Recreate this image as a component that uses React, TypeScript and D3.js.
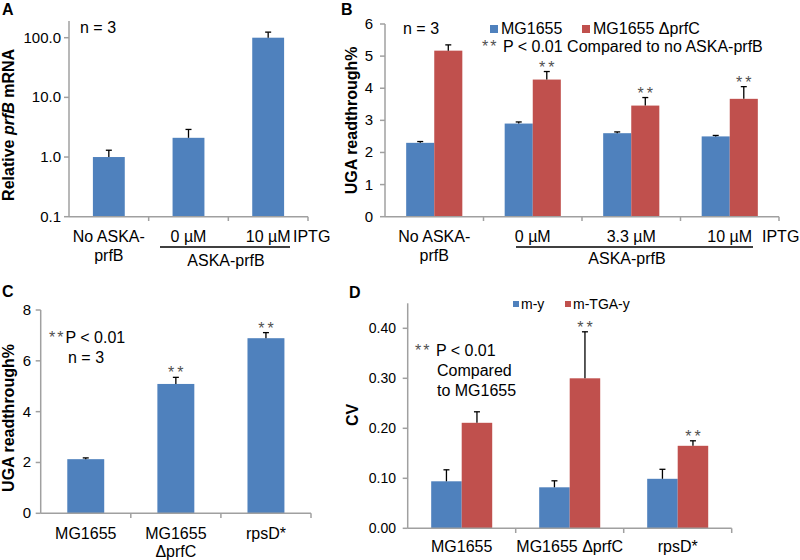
import React from "react";
import * as d3 from "d3";

// Panel A
const aCategories = ["No ASKA-prfB", "0 µM", "10 µM"];
const aValues = [1.0, 2.1, 100];
const aErrors = [0.3, 0.8, 24];
const aTicks = [0.1, 1, 10, 100];

// Panel B
const bCategories = ["No ASKA-prfB", "0 µM", "3.3 µM", "10 µM"];
const bSeries = ["MG1655", "MG1655 ΔprfC"];
const bWT = [2.3, 2.9, 2.6, 2.5];
const bWTErr = [0.04, 0.05, 0.04, 0.03];
const bPrfC = [5.17, 4.27, 3.46, 3.67];
const bPrfCErr = [0.18, 0.25, 0.25, 0.38];
const bSig = [false, true, true, true];
const bTicks = [0, 1, 2, 3, 4, 5, 6];

// Panel C
const cCategories = ["MG1655", "MG1655\nΔprfC", "rpsD*"];
const cValues = [2.13, 5.09, 6.89];
const cErrors = [0.05, 0.26, 0.22];
const cSig = [false, true, true];
const cTicks = [0, 2, 4, 6, 8];

// Panel D
const dCategories = ["MG1655", "MG1655 ΔprfC", "rpsD*"];
const dSeries = ["m-y", "m-TGA-y"];
const dMY = [0.094, 0.082, 0.099];
const dMYErr = [0.023, 0.013, 0.019];
const dMTGA = [0.211, 0.3, 0.165];
const dMTGAErr = [0.022, 0.093, 0.01];
const dSig = [false, true, true];
const dTicks = [0, 0.1, 0.2, 0.3, 0.4];

const BLUE = "#4f81bd";
const RED = "#c0504d";
const AXIS = "#a0a0a0";
const STAR = "#505050";
const FONT = "Liberation Sans, Arial, sans-serif";

function ErrBar({ x, y0, y1 }: { x: number; y0: number; y1: number }) {
  return (
    <g stroke="#000" strokeWidth={1.3}>
      <line x1={x} x2={x} y1={y0} y2={y1} />
      <line x1={x - 3} x2={x + 3} y1={y1} y2={y1} />
    </g>
  );
}

function Stars({ x, y }: { x: number; y: number }) {
  return (
    <text x={x + 1.5} y={y + 1} textAnchor="middle" fontSize={16} letterSpacing={3} fill={STAR}>
      **
    </text>
  );
}

function PanelA() {
  const x = d3.scaleBand<string>().domain(aCategories).range([69, 308]).padding(0);
  const y = d3.scaleLog().domain([0.1, 100]).range([216.7, 37.7]);
  const bw = x.bandwidth() * 0.4;
  const fmt = d3.format(".1f");
  const yTop = y(190);
  return (
    <g>
      <text x={2} y={15} fontSize={16} fontWeight="bold">A</text>
      <text transform={`translate(14,${(216.7 + yTop) / 2 + 6}) rotate(-90)`} textAnchor="middle" fontSize={16} fontWeight="bold">
        Relative <tspan fontStyle="italic">prfB</tspan> mRNA
      </text>
      <line x1={69} x2={69} y1={yTop} y2={216.7} stroke={AXIS} strokeWidth={1.5} />
      {aTicks.map((t) => (
        <g key={t}>
          <line x1={64} x2={69} y1={y(t)} y2={y(t)} stroke={AXIS} strokeWidth={1.5} />
          <text x={61} y={y(t) + 5} textAnchor="end" fontSize={15}>{fmt(t)}</text>
        </g>
      ))}
      {aCategories.map((c, i) => {
        const cx = x(c)! + x.bandwidth() / 2;
        return (
          <g key={c}>
            <rect x={cx - bw / 2} y={y(aValues[i])} width={bw} height={216.7 - y(aValues[i])} fill={BLUE} />
            <ErrBar x={cx} y0={y(aValues[i])} y1={y(aValues[i] + aErrors[i])} />
          </g>
        );
      })}
      <line x1={69} x2={308} y1={216.7} y2={216.7} stroke={AXIS} strokeWidth={1.5} />
      {aCategories.map((c) => (
        <line key={c} x1={x(c)! + x.bandwidth()} x2={x(c)! + x.bandwidth()} y1={216.7} y2={221} stroke={AXIS} strokeWidth={1.5} />
      ))}
      <text x={x(aCategories[0])! + x.bandwidth() / 2} y={242} textAnchor="middle" fontSize={16}>No ASKA-</text>
      <text x={x(aCategories[0])! + x.bandwidth() / 2} y={261} textAnchor="middle" fontSize={16}>prfB</text>
      {aCategories.slice(1).map((c) => (
        <text key={c} x={x(c)! + x.bandwidth() / 2} y={242} textAnchor="middle" fontSize={16}>{c}</text>
      ))}
      <text x={293} y={242} fontSize={16}>IPTG</text>
      <line x1={160} x2={290} y1={247} y2={247} stroke="#000" strokeWidth={1.5} />
      <text x={226} y={266} textAnchor="middle" fontSize={16}>ASKA-prfB</text>
      <text x={80} y={33} fontSize={16}>n = 3</text>
    </g>
  );
}

function PanelB() {
  const x = d3.scaleBand<string>().domain(bCategories).range([385, 779]).padding(0);
  const y = d3.scaleLinear().domain([0, 6]).range([216.7, 24]);
  const sub = d3.scaleBand<string>().domain(bSeries).range([0, x.bandwidth() * 0.57]);
  const off = x.bandwidth() * (1 - 0.57) / 2;
  const series = [
    { vals: bWT, errs: bWTErr, color: BLUE },
    { vals: bPrfC, errs: bPrfCErr, color: RED },
  ];
  return (
    <g>
      <text x={341} y={15} fontSize={16} fontWeight="bold">B</text>
      <text transform={`translate(357,${(216.7 + 24) / 2}) rotate(-90)`} textAnchor="middle" fontSize={16} fontWeight="bold">UGA readthrough%</text>
      <line x1={385} x2={385} y1={24} y2={216.7} stroke={AXIS} strokeWidth={1.5} />
      {bTicks.map((t) => (
        <g key={t}>
          <line x1={380} x2={385} y1={y(t)} y2={y(t)} stroke={AXIS} strokeWidth={1.5} />
          <text x={373} y={y(t) + 5} textAnchor="end" fontSize={15}>{t}</text>
        </g>
      ))}
      {bCategories.map((c, i) => (
        <g key={c}>
          {series.map((s, j) => {
            const bx = x(c)! + off + sub(bSeries[j])!;
            const cx = bx + sub.bandwidth() / 2;
            return (
              <g key={j}>
                <rect x={bx} y={y(s.vals[i])} width={sub.bandwidth()} height={216.7 - y(s.vals[i])} fill={s.color} />
                <ErrBar x={cx} y0={y(s.vals[i])} y1={y(s.vals[i] + s.errs[i])} />
                {j === 1 && bSig[i] && <Stars x={cx} y={y(s.vals[i] + s.errs[i])} />}
              </g>
            );
          })}
        </g>
      ))}
      <line x1={385} x2={779} y1={216.7} y2={216.7} stroke={AXIS} strokeWidth={1.5} />
      {bCategories.map((c) => (
        <line key={c} x1={x(c)! + x.bandwidth()} x2={x(c)! + x.bandwidth()} y1={216.7} y2={221} stroke={AXIS} strokeWidth={1.5} />
      ))}
      <text x={x(bCategories[0])! + x.bandwidth() / 2} y={242} textAnchor="middle" fontSize={16}>No ASKA-</text>
      <text x={x(bCategories[0])! + x.bandwidth() / 2} y={261} textAnchor="middle" fontSize={16}>prfB</text>
      {bCategories.slice(1).map((c) => (
        <text key={c} x={x(c)! + x.bandwidth() / 2} y={242} textAnchor="middle" fontSize={16}>{c}</text>
      ))}
      <text x={762} y={242} fontSize={16}>IPTG</text>
      <line x1={516} x2={753} y1={247} y2={247} stroke="#000" strokeWidth={1.5} />
      <text x={627} y={264} textAnchor="middle" fontSize={16}>ASKA-prfB</text>
      <text x={403} y={34} fontSize={16}>n = 3</text>
      <rect x={490} y={25} width={8} height={8} fill={BLUE} />
      <text x={501} y={34} fontSize={16}>{bSeries[0]}</text>
      <rect x={582} y={25} width={8} height={8} fill={RED} />
      <text x={593} y={34} fontSize={16}>{bSeries[1]}</text>
      <text x={482} y={52} fontSize={16}>
        <tspan fill={STAR} letterSpacing={2}>**</tspan> P &lt; 0.01 Compared to no ASKA-prfB
      </text>
    </g>
  );
}

function PanelC() {
  const x = d3.scaleBand<string>().domain(cCategories).range([40.7, 311]).padding(0);
  const y = d3.scaleLinear().domain([0, 8]).range([513.3, 310]);
  const bw = x.bandwidth() * 0.41;
  return (
    <g>
      <text x={2} y={297} fontSize={16} fontWeight="bold">C</text>
      <text transform={`translate(14,418) rotate(-90)`} textAnchor="middle" fontSize={16} fontWeight="bold">UGA readthrough%</text>
      <line x1={40.7} x2={40.7} y1={310} y2={513.3} stroke={AXIS} strokeWidth={1.5} />
      {cTicks.map((t) => (
        <g key={t}>
          <line x1={35.7} x2={40.7} y1={y(t)} y2={y(t)} stroke={AXIS} strokeWidth={1.5} />
          <text x={31} y={y(t) + 5} textAnchor="end" fontSize={15}>{t}</text>
        </g>
      ))}
      {cCategories.map((c, i) => {
        const cx = x(c)! + x.bandwidth() / 2;
        return (
          <g key={c}>
            <rect x={cx - bw / 2} y={y(cValues[i])} width={bw} height={513.3 - y(cValues[i])} fill={BLUE} />
            <ErrBar x={cx} y0={y(cValues[i])} y1={y(cValues[i] + cErrors[i])} />
            {cSig[i] && <Stars x={cx} y={y(cValues[i] + cErrors[i])} />}
          </g>
        );
      })}
      <line x1={40.7} x2={311} y1={513.3} y2={513.3} stroke={AXIS} strokeWidth={1.5} />
      {cCategories.map((c) => (
        <line key={c} x1={x(c)! + x.bandwidth()} x2={x(c)! + x.bandwidth()} y1={513.3} y2={518} stroke={AXIS} strokeWidth={1.5} />
      ))}
      {cCategories.map((c) => (
        <text key={c} textAnchor="middle" fontSize={16}>
          {c.split("\n").map((line, k) => (
            <tspan key={k} x={x(c)! + x.bandwidth() / 2} y={539 + k * 18}>{line}</tspan>
          ))}
        </text>
      ))}
      <text x={49} y={343} fontSize={16}>
        <tspan fill={STAR} letterSpacing={2}>**</tspan>P &lt; 0.01
      </text>
      <text x={68} y={363} fontSize={16}>n = 3</text>
    </g>
  );
}

function PanelD() {
  const x = d3.scaleBand<string>().domain(dCategories).range([407.7, 731.7]).padding(0);
  const y = d3.scaleLinear().domain([0, 0.45]).range([528.3, 303.3]);
  const sub = d3.scaleBand<string>().domain(dSeries).range([0, x.bandwidth() * 0.565]);
  const off = x.bandwidth() * (1 - 0.565) / 2;
  const series = [
    { vals: dMY, errs: dMYErr, color: BLUE },
    { vals: dMTGA, errs: dMTGAErr, color: RED },
  ];
  const fmt = d3.format(".2f");
  return (
    <g>
      <text x={349} y={298} fontSize={16} fontWeight="bold">D</text>
      <text transform={`translate(358,415) rotate(-90)`} textAnchor="middle" fontSize={16} fontWeight="bold">CV</text>
      <line x1={407.7} x2={407.7} y1={303.3} y2={528.3} stroke={AXIS} strokeWidth={1.5} />
      {dTicks.map((t) => (
        <g key={t}>
          <line x1={402.7} x2={407.7} y1={y(t)} y2={y(t)} stroke={AXIS} strokeWidth={1.5} />
          <text x={396} y={y(t) + 5} textAnchor="end" fontSize={14}>{fmt(t)}</text>
        </g>
      ))}
      {dCategories.map((c, i) => (
        <g key={c}>
          {series.map((s, j) => {
            const bx = x(c)! + off + sub(dSeries[j])!;
            const cx = bx + sub.bandwidth() / 2;
            return (
              <g key={j}>
                <rect x={bx} y={y(s.vals[i])} width={sub.bandwidth()} height={528.3 - y(s.vals[i])} fill={s.color} />
                <ErrBar x={cx} y0={y(s.vals[i])} y1={y(s.vals[i] + s.errs[i])} />
                {j === 1 && dSig[i] && <Stars x={cx} y={y(s.vals[i] + s.errs[i])} />}
              </g>
            );
          })}
        </g>
      ))}
      <line x1={407.7} x2={731.7} y1={528.3} y2={528.3} stroke={AXIS} strokeWidth={1.5} />
      {dCategories.map((c) => (
        <line key={c} x1={x(c)! + x.bandwidth()} x2={x(c)! + x.bandwidth()} y1={528.3} y2={533} stroke={AXIS} strokeWidth={1.5} />
      ))}
      {dCategories.map((c) => (
        <text key={c} x={x(c)! + x.bandwidth() / 2} y={552} textAnchor="middle" fontSize={16}>{c}</text>
      ))}
      <rect x={513} y={301} width={6} height={6} fill={BLUE} />
      <text x={521} y={309} fontSize={14}>{dSeries[0]}</text>
      <rect x={565} y={301} width={6} height={6} fill={RED} />
      <text x={573} y={309} fontSize={14}>{dSeries[1]}</text>
      <text x={415} y={356} fontSize={16}>
        <tspan fill={STAR} letterSpacing={2}>**</tspan> P &lt; 0.01
      </text>
      <text x={437} y={376} fontSize={16}>Compared</text>
      <text x={437} y={396} fontSize={16}>to MG1655</text>
    </g>
  );
}

export default function App() {
  return (
    <svg width={800} height={560} style={{ display: "block", position: "absolute", left: 0, top: 0 }} fontFamily={FONT}>
      <rect width={800} height={560} fill="#fff" />
      <PanelA />
      <PanelB />
      <PanelC />
      <PanelD />
    </svg>
  );
}
